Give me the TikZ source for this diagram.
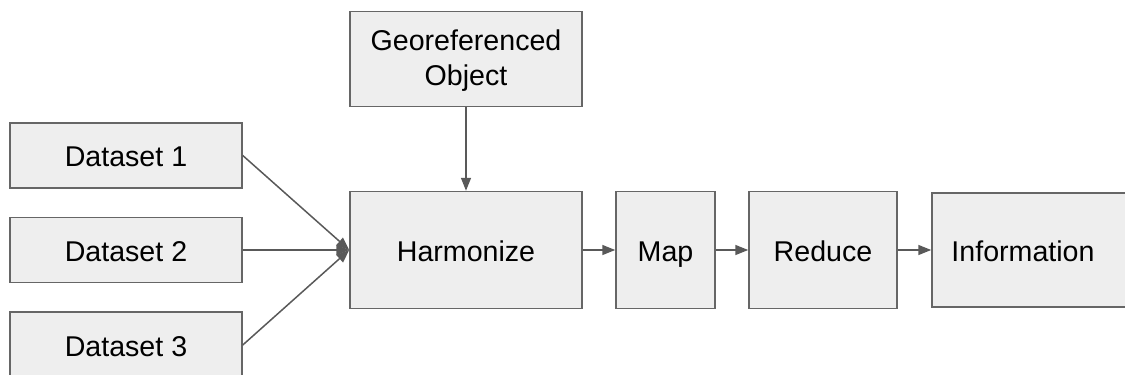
\documentclass[tikz,border=0pt]{standalone}
\usepackage{fontspec}
\setmainfont{Liberation Sans}
\usetikzlibrary{arrows.meta,positioning}
\definecolor{boxfill}{RGB}{238,238,238}
\definecolor{boxline}{RGB}{102,102,102}
\definecolor{flowgray}{RGB}{89,89,89}
\tikzset{
  flow/.style={-{Triangle[length=13pt,width=10pt]},draw=flowgray,fill=flowgray,line width=1.5pt},
  block/.style={draw=boxline,line width=1.5pt,fill=boxfill,inner sep=0pt,
                align=center,font=\fontsize{28.6}{35}\selectfont},
  oneline/.style={block,text height=27pt,text depth=4.5pt},
  source/.style={oneline,minimum width=232pt,minimum height=65pt},
  stagebox/.style={oneline,minimum height=117pt},
}
\begin{document}
\begin{tikzpicture}[x=1pt,y=-1pt]
  \path[use as bounding box] (0,0) rectangle (1125,375);
  \clip (0,0) rectangle (1125,375);

  \node[source] (ds1) at (126,155.5) {Dataset 1};
  \node[source] (ds2) at (126,250) {Dataset 2};
  \node[source,minimum height=66pt] (ds3) at (126,345) {Dataset 3};

  \node[block,minimum width=232pt,minimum height=95pt,text depth=3pt] (geo) at (466,59)
    {Georeferenced\\Object};

  \node[stagebox,minimum width=232pt] (harm) at (466,250) {Harmonize};
  \node[stagebox,minimum width=99pt] (map) at (665.5,250) {Map};
  \node[stagebox,minimum width=148pt] (reduce) at (823,250) {Reduce};
  \node[stagebox,minimum width=204pt,minimum height=114pt] (info) at (1034,250) {\hspace*{-22pt}Information};

  \draw[flow] (ds1.east) -- (harm.west);
  \draw[flow] (ds2.east) -- (harm.west);
  \draw[flow] (ds3.east) -- (harm.west);
  \draw[flow] (geo.south) -- (harm.north);
  \draw[flow] (harm) -- (map);
  \draw[flow] (map) -- (reduce);
  \draw[flow] (reduce) -- (info);
\end{tikzpicture}
\end{document}
